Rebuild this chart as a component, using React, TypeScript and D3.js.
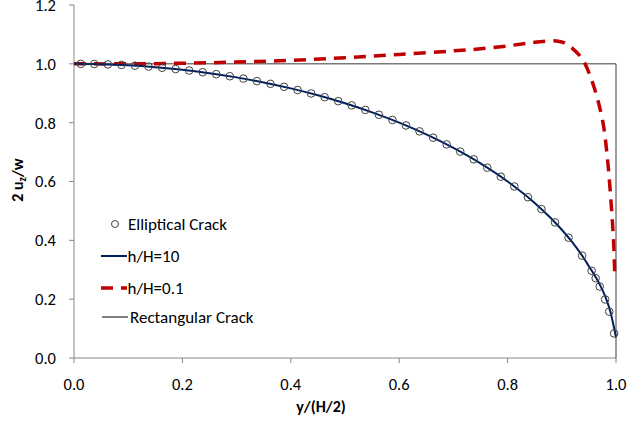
import React from "react";
import * as d3 from "d3";

const W = 632;
const H = 423;

// Elliptical crack (markers)
const ellX = [0.0125, 0.0375, 0.0625, 0.0875, 0.1125, 0.1375, 0.1625, 0.1875, 0.2125, 0.2375, 0.2625, 0.2875, 0.3125, 0.3375, 0.3625, 0.3875, 0.4125, 0.4375, 0.4625, 0.4875, 0.5125, 0.5375, 0.5625, 0.5875, 0.6125, 0.6375, 0.6625, 0.6875, 0.7125, 0.7375, 0.7625, 0.7875, 0.8125, 0.8375, 0.8625, 0.8875, 0.9125, 0.9375, 0.955, 0.9625, 0.97, 0.98, 0.9875, 0.9965];
const ellY = [0.9999, 0.9993, 0.998, 0.9962, 0.9937, 0.9905, 0.9867, 0.9823, 0.9772, 0.9714, 0.9649, 0.9578, 0.9499, 0.9413, 0.932, 0.9219, 0.911, 0.8992, 0.8866, 0.8731, 0.8587, 0.8433, 0.8268, 0.8092, 0.7905, 0.7704, 0.749, 0.7262, 0.7017, 0.6753, 0.647, 0.6163, 0.583, 0.5465, 0.5061, 0.4608, 0.409, 0.348, 0.2966, 0.2713, 0.2431, 0.199, 0.1576, 0.0836];

// h/H = 10 (solid navy)
const h10X = [0, 0.05, 0.1, 0.15, 0.2, 0.25, 0.3, 0.35, 0.4, 0.45, 0.5, 0.55, 0.6, 0.65, 0.7, 0.75, 0.8, 0.85, 0.88, 0.9, 0.92, 0.94, 0.95, 0.96, 0.97, 0.98, 0.99, 0.995, 1.0];
const h10Y = [1.0, 0.9987, 0.995, 0.9887, 0.98, 0.9682, 0.954, 0.9367, 0.9165, 0.893, 0.866, 0.835, 0.8, 0.76, 0.714, 0.6614, 0.6, 0.527, 0.475, 0.436, 0.392, 0.341, 0.312, 0.283, 0.25, 0.21, 0.155, 0.115, 0.07];

// h/H = 0.1 (red dashed)
const h01X = [0, 0.1, 0.2, 0.3, 0.4, 0.5, 0.6, 0.7, 0.75, 0.8, 0.84, 0.87, 0.89, 0.905, 0.92, 0.932, 0.943, 0.953, 0.963, 0.976, 0.983, 0.988, 0.992, 0.9954, 0.998];
const h01Y = [1.0, 1.0, 1.002, 1.006, 1.012, 1.021, 1.032, 1.044, 1.051, 1.061, 1.071, 1.077, 1.078, 1.071, 1.052, 1.03, 1.0, 0.955, 0.9, 0.8, 0.7, 0.6, 0.5, 0.4, 0.27];

// Rectangular crack (thin black)
const rectX = [0, 1, 1];
const rectY = [1, 1, 0];

const xTicks = [0, 0.2, 0.4, 0.6, 0.8, 1.0];
const yTicks = [0, 0.2, 0.4, 0.6, 0.8, 1.0, 1.2];

const FONT = "Carlito, Calibri, Lato, 'Open Sans', sans-serif";

export default function App() {
  const x = d3.scaleLinear().domain([0, 1]).range([74, 616]);
  const y = d3.scaleLinear().domain([0, 1.2]).range([358, 5]);

  const zip = (xs: number[], ys: number[]) => xs.map((v, i) => [v, ys[i]] as [number, number]);

  const smooth = d3
    .line<[number, number]>()
    .x((d) => x(d[0]))
    .y((d) => y(d[1]))
    .curve(d3.curveMonotoneX);
  const smoothCR = d3
    .line<[number, number]>()
    .x((d) => x(d[0]))
    .y((d) => y(d[1]))
    .curve(d3.curveCatmullRom.alpha(0.5));
  const straight = d3
    .line<[number, number]>()
    .x((d) => x(d[0]))
    .y((d) => y(d[1]));

  const axisColor = "#868686";
  const legendX = 101;

  return (
    <svg
      width={W}
      height={H}
      style={{ position: "fixed", left: 0, top: 0, background: "#fff" }}
      fontFamily={FONT}
    >
      <rect x={0} y={0} width={W} height={H} fill="#fff" />
      {/* axes */}
      <line x1={x(0)} x2={x(0)} y1={y(1.2)} y2={y(0)} stroke={axisColor} strokeWidth={1} />
      <line x1={x(0)} x2={x(1)} y1={y(0)} y2={y(0)} stroke={axisColor} strokeWidth={1} />
      {yTicks.map((t) => (
        <g key={"y" + t}>
          <line x1={x(0) - 5} x2={x(0)} y1={y(t)} y2={y(t)} stroke={axisColor} />
          <text x={56} y={y(t)} dy="0.36em" textAnchor="end" fontSize={16.5} fill="#000">
            {t.toFixed(1)}
          </text>
        </g>
      ))}
      {xTicks.map((t) => (
        <g key={"x" + t}>
          <line x1={x(t)} x2={x(t)} y1={y(0)} y2={y(0) + 5} stroke={axisColor} />
          <text x={x(t)} y={390} textAnchor="middle" fontSize={16.5} fill="#000">
            {t.toFixed(1)}
          </text>
        </g>
      ))}

      {/* series */}
      <path d={straight(zip(rectX, rectY)) || ""} fill="none" stroke="#3a3a3a" strokeWidth={1} />
      <path
        d={smoothCR(zip(h01X, h01Y)) || ""}
        fill="none"
        stroke="#c00000"
        strokeWidth={3.5}
        strokeDasharray="12 8"
      />
      <path d={smooth(zip(h10X, h10Y)) || ""} fill="none" stroke="#002060" strokeWidth={2} />
      {ellX.map((v, i) => (
        <circle key={"e" + i} cx={x(v)} cy={y(ellY[i])} r={3.8} fill="none" stroke="#404040" strokeWidth={1} />
      ))}

      {/* legend */}
      <circle cx={115} cy={224} r={3.5} fill="none" stroke="#404040" strokeWidth={1} />
      <text x={128} y={229.5} fontSize={17} fill="#000">Elliptical Crack</text>
      <line x1={legendX} x2={127} y1={256} y2={256} stroke="#002060" strokeWidth={2} />
      <text x={127.5} y={261.5} fontSize={17} fill="#000">h/H=10</text>
      <line x1={legendX} x2={127} y1={288} y2={288} stroke="#c00000" strokeWidth={3.5} strokeDasharray="12 8" />
      <text x={127.5} y={293.5} fontSize={17} fill="#000">h/H=0.1</text>
      <line x1={102} x2={128} y1={317} y2={317} stroke="#000" strokeWidth={1} />
      <text x={130} y={322.5} fontSize={17} fill="#000">Rectangular Crack</text>

      {/* axis titles */}
      <text x={321} y={412} textAnchor="middle" fontSize={16} fontWeight="bold" fill="#000">
        y/(H/2)
      </text>
      <text
        transform="translate(23,180) rotate(-90)"
        textAnchor="middle"
        fontSize={16}
        fontWeight="bold"
        fill="#000"
      >
        2 u<tspan fontSize={11} dy={3}>z</tspan>
        <tspan dy={-3}>/w</tspan>
      </text>
    </svg>
  );
}
